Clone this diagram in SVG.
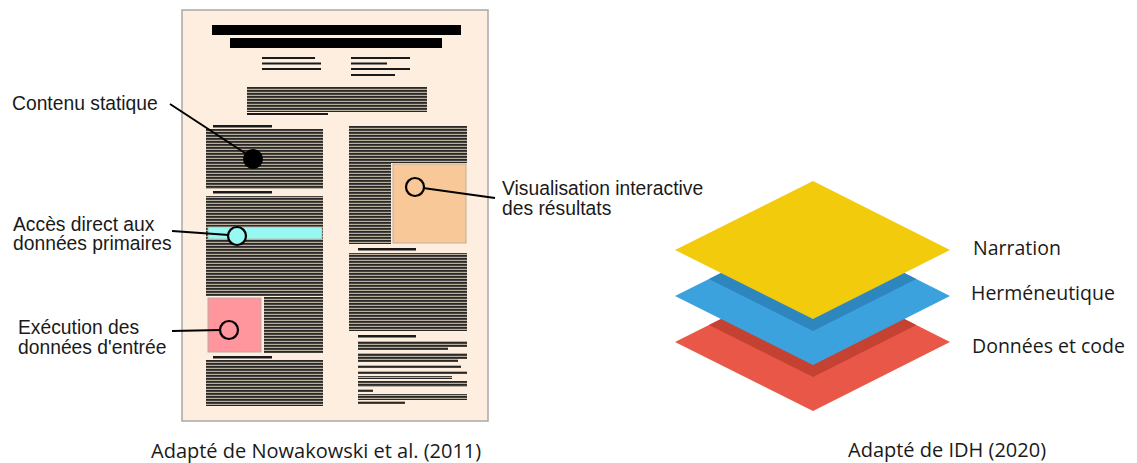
<svg xmlns="http://www.w3.org/2000/svg" width="1137" height="463" viewBox="0 0 1137 463">
<defs>
<pattern id="txt" patternUnits="userSpaceOnUse" width="6" height="3">
<rect width="6" height="3" fill="#b9af9f"/>
<rect width="6" height="1.8" fill="#2a2826"/>
</pattern>
<clipPath id="clipBlue"><polygon points="675,296 813,227 950,296 813,365"/></clipPath>
<clipPath id="clipRed"><polygon points="675,342 813,273 950,342 813,411"/></clipPath>
</defs>
<style>
.lbl{font-family:"Liberation Sans",Arial,sans-serif;font-size:19.3px;fill:#1a1a1a}
.cap{font-family:"Open Sans","Noto Sans",sans-serif;font-size:20px;fill:#1a1a1a}
.lyr{font-family:"Open Sans","Noto Sans",sans-serif;font-size:19.5px;fill:#1a1a1a}
.blk{fill:url(#txt)}
.hd{fill:#1a1a1a}
.ln{stroke:#000;stroke-width:2;fill:none}
.ring{stroke:#000;stroke-width:2.2}
</style>

<g id="page">
<rect x="182" y="10" width="306" height="411" fill="#fdeee0" stroke="#aaa8a4" stroke-width="1.5"/>
<rect x="212" y="25" width="249" height="10" fill="#000"/>
<rect x="230" y="38" width="212" height="10" fill="#000"/>
<rect x="262" y="57" width="53" height="2" class="hd"/>
<rect x="262" y="62.5" width="59" height="2" class="hd"/>
<rect x="262" y="68" width="59" height="2" class="hd"/>
<rect x="351" y="57" width="59" height="2" class="hd"/>
<rect x="351" y="62.5" width="36" height="2" class="hd"/>
<rect x="351" y="68" width="59" height="2" class="hd"/>
<rect x="351" y="74" width="44" height="2" class="hd"/>
<rect x="247" y="87" width="180" height="25" class="blk"/>
<rect x="247" y="113" width="81" height="2" class="hd"/>
<rect x="213" y="125" width="59" height="2.5" class="hd"/>
<rect x="206" y="129" width="117" height="60" class="blk"/>
<rect x="213" y="191" width="59" height="2.5" class="hd"/>
<rect x="206" y="196" width="117" height="100" class="blk"/>
<rect x="264" y="297" width="59" height="56" class="blk"/>
<rect x="213" y="356" width="59" height="2.5" class="hd"/>
<rect x="206" y="360" width="117" height="46" class="blk"/>
<rect x="349" y="126" width="118" height="37" class="blk"/>
<rect x="349" y="163" width="42" height="81" class="blk"/>
<rect x="358" y="248" width="58" height="2.5" class="hd"/>
<rect x="349" y="253" width="118" height="78" class="blk"/>
<rect x="358" y="335" width="58" height="2.5" class="hd"/>
<rect x="358" y="341" width="109" height="6" class="blk"/>
<rect x="358" y="347" width="90" height="3" class="blk"/>
<rect x="358" y="353" width="109" height="6" class="blk"/>
<rect x="358" y="359" width="100" height="3" class="blk"/>
<rect x="358" y="365" width="103" height="3" class="blk"/>
<rect x="358" y="371" width="109" height="3" class="blk"/>
<rect x="358" y="376" width="94" height="3" class="blk"/>
<rect x="358" y="381" width="109" height="6" class="blk"/>
<rect x="358" y="389" width="15" height="3" class="blk"/>
<rect x="358" y="394" width="109" height="6" class="blk"/>
<rect x="358" y="401" width="47" height="3" class="blk"/>
</g>

<g id="box-cyan"><rect x="208" y="227" width="114" height="12" fill="#98f8f2" stroke="#b8b0a4" stroke-width="0.8"/></g>
<g id="box-orange"><rect x="393" y="164" width="73" height="79" fill="#f9c898" stroke="#bfae9c" stroke-width="1"/></g>
<g id="box-pink"><rect x="208" y="298" width="53" height="54" fill="#ff959d" stroke="#b8aaa0" stroke-width="1"/></g>

<g id="connectors">
<line x1="170" y1="104" x2="251" y2="157" class="ln"/>
<line x1="172" y1="231" x2="229" y2="235" class="ln"/>
<line x1="172" y1="331" x2="221" y2="330" class="ln"/>
<line x1="423" y1="188" x2="495" y2="198" class="ln"/>
</g>

<g id="markers">
<circle cx="253" cy="159" r="10" fill="#000"/>
<circle cx="237" cy="236" r="9" fill="#98f8f2" class="ring"/>
<circle cx="229" cy="330" r="9" fill="#ff959d" class="ring"/>
<circle cx="415" cy="187" r="9" fill="#f9c898" class="ring"/>
</g>

<g id="label-contenu"><text class="lbl" x="12" y="110">Contenu statique</text></g>
<g id="label-acces"><text class="lbl" x="13" y="231">Accès direct aux</text><text class="lbl" x="13" y="250">données primaires</text></g>
<g id="label-execution"><text class="lbl" x="18" y="334">Exécution des</text><text class="lbl" x="18" y="354">données d'entrée</text></g>
<g id="label-visualisation"><text class="lbl" x="502" y="195">Visualisation interactive</text><text class="lbl" x="502" y="215">des résultats</text></g>

<g id="layer-donnees">
<polygon points="675,342 813,273 950,342 813,411" fill="#e85747"/>
<polygon points="675,308 813,239 950,308 813,377" fill="#c54132" clip-path="url(#clipRed)"/>
<text class="lyr" x="972" y="353">Données et code</text>
</g>
<g id="layer-hermeneutique">
<polygon points="675,296 813,227 950,296 813,365" fill="#3ba2dd"/>
<polygon points="675,262 813,193 950,262 813,331" fill="#2e86bf" clip-path="url(#clipBlue)"/>
<text class="lyr" x="971" y="300">Herméneutique</text>
</g>
<g id="layer-narration">
<polygon points="675,250 813,181 950,250 813,319" fill="#f2cb0c"/>
<text class="lyr" x="973" y="255">Narration</text>
</g>

<g id="captions">
<text class="cap" x="151" y="458">Adapté de Nowakowski et al. (2011)</text>
<text class="cap" x="848" y="457">Adapté de IDH (2020)</text>
</g>
</svg>
